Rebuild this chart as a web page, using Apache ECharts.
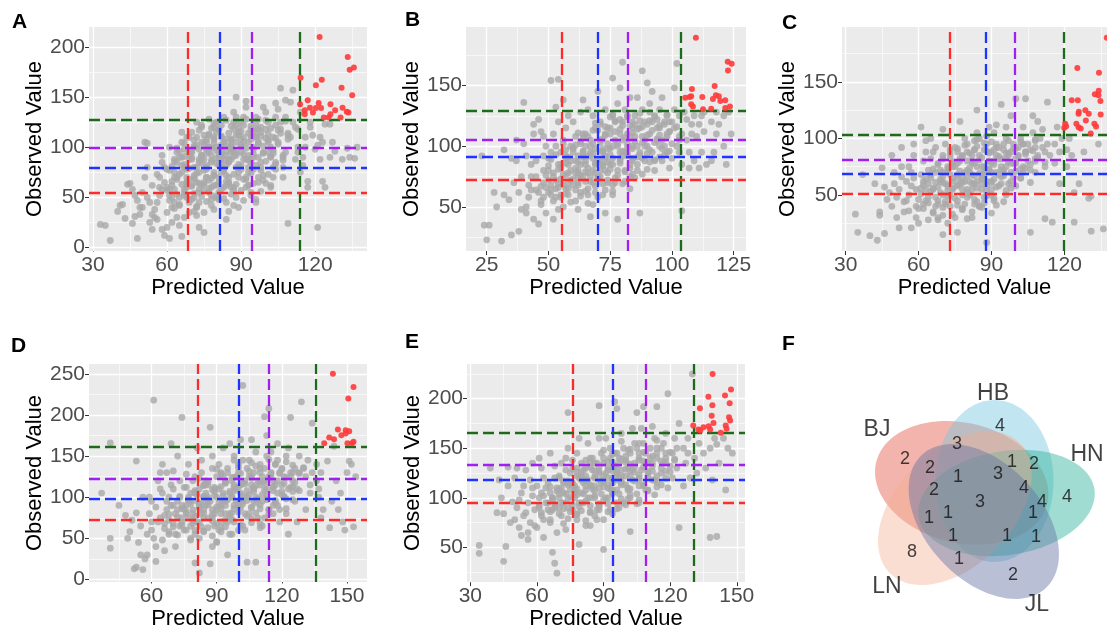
<!DOCTYPE html>
<html>
<head>
<meta charset="utf-8">
<script src="https://cdn.jsdelivr.net/npm/echarts@6.0.0/dist/echarts.min.js"></script>
<style>
  html, body { margin: 0; padding: 0; background: #fff; }
  #chart { width: 1107px; height: 631px; }
</style>
</head>
<body>
<div id="chart"></div>
<script>
// tick labels per panel
const xTicksA = [30, 60, 90, 120]
const yTicksA = [0, 50, 100, 150, 200]
const xTicksB = [25, 50, 75, 100, 125]
const yTicksB = [50, 100, 150]
const xTicksC = [30, 60, 90, 120]
const yTicksC = [50, 100, 150]
const xTicksD = [60, 90, 120, 150]
const yTicksD = [0, 50, 100, 150, 200, 250]
const xTicksE = [30, 60, 90, 120, 150]
const yTicksE = [50, 100, 150, 200]

// cut-off lines (red, blue, purple, green)
const cutXA = [68.2, 81.4, 94.2, 113.8]
const cutYA = [54.5, 79.7, 99.7, 127.6]
const cutXB = [55.5, 70, 82.2, 103.4]
const cutYB = [72.5, 91.6, 105.3, 129.5]
const cutXC = [73, 87.8, 99.7, 119.6]
const cutYC = [50.9, 68.7, 81.3, 103]
const cutXD = [81.5, 100.2, 114, 135.4]
const cutYD = [73, 98, 122.6, 161.5]
const cutXE = [76.3, 94.2, 109.2, 130.5]
const cutYE = [95.3, 118.1, 133.6, 165.6]

// highlighted (top) points
const redA = [[121.8,210],[133.2,190],[134,177.4],[135.7,179.7],[114.1,169.4],[122.7,167.4],[120.3,161.8],[130.7,159.5],[135,151.8],[113.9,142.9],[117,146.8],[121.4,144.2],[115.8,136.9],[115.8,132.9],[117.9,139.5],[120.3,139.2],[119.1,134.6],[122.4,139.2],[126.2,142.9],[123.5,129.6],[125.4,129.6],[128.1,136.9],[126.2,132.9],[130.3,129.6],[131.1,139.5],[132.8,135.5],[133.5,134.6]]
const redB = [[109.7,189.2],[122.6,169.5],[124.2,167.8],[122.7,162.3],[117.3,149.5],[108.1,147],[105.4,139.9],[107.2,140.4],[107.8,141],[112.3,140.4],[117.8,141.8],[119,141],[116.6,138.8],[119.6,137.1],[121.6,137.7],[107.8,134.4],[108.5,132.7],[112.6,130.3],[115.9,130.8],[121.6,131.4],[123.5,132.7]]
const redC = [[137.4,188.9],[125.3,162.2],[134.2,158],[134.1,142],[134,138],[132.5,139],[134.8,133],[123,133.7],[125.5,133.7],[125.9,123.6],[125.8,121.8],[128.6,124.8],[130,121.8],[134.9,121.2],[124.9,112.9],[125.8,109.9],[126.7,108.8],[128.8,115.9],[132.3,112.9],[133,110.5],[130.8,104.3],[120.3,112.9],[120.7,110.8],[119.9,109.3]]
const redD = [[143.5,250],[153,234.1],[150.6,220.2],[139.5,165.5],[141.8,172.6],[144,170.6],[145.8,182.5],[147.4,175.4],[149.4,181.3],[151,180.2],[150.2,165.5],[152.3,165.5],[153,167.5],[149.4,177.4]]
const redE = [[139.1,224.8],[147.4,209.2],[137.2,202],[144.7,203.3],[133.4,190.4],[139,193.4],[146.8,195.4],[138.7,182.8],[146.5,181.2],[147,177.9],[130.4,172.9],[132.7,168.9],[135,171.2],[137.3,172.2],[139.5,175.5],[138,168.9],[142.8,165.6],[145,172.9],[145.4,169.6],[133.6,168]]

// all other points
const grayA = [[33,23],[35,22],[37,7],[40,36],[41,42],[43,29],[42,43],[44,63],[45,64],[46,58],[47,31],[48,9],[48,47],[49,33],[47,52],[49,40],[46,24],
[51,105],[52,104],[50,40],[53,25],[52,50],[54,62],[51,70],[54,33],[53,45],[52,80],[54,18],[50,55],
[56,73],[57,60],[55,30],[58,18],[59,80],[56,45],[58,92],[57,52],[59,65],[55,38],[58,85],[56,28],[57,70],[59,12],[58,58],
[61,9],[62,62],[60,35],[63,70],[61,52],[64,85],[62,25],[63,45],[60,78],[64,95],[61,58],[62,40],[64,68],[63,88],[60,20],[62,50],[61,100],[63,75],[64,30],[60,60],
[66,11],[67,98],[65,42],[68,60],[66,75],[69,88],[67,30],[69,110],[65,50],[68,65],[66,82],[67,55],[69,95],[65,22],[68,70],[66,105],[69,45],[67,80],[68,62],[65,90],[66,115],[69,35],
[71,50],[72,65],[70,95],[73,20],[71,80],[74,105],[72,40],[73,58],[70,90],[74,120],[71,70],[73,85],[72,110],[70,48],[74,62],[71,100],[73,75],[72,32],[74,88],[70,115],[73,55],[71,68],[72,125],[74,92],
[76,70],[75,15],[77,100],[78,48],[76,82],[79,62],[77,112],[75,35],[78,92],[79,72],[76,105],[77,55],[78,85],[79,120],[75,65],[77,95],[76,78],[78,42],[79,110],[75,88],[77,128],[78,60],[76,98],[79,75],
[81,55],[80,125],[82,85],[83,105],[81,65],[84,28],[82,96],[80,115],[83,78],[84,45],[81,90],[82,110],[84,72],[80,100],[83,60],[81,118],[84,82],[82,92],[83,130],[80,50],[84,108],[81,70],[83,88],[82,102],
[86,108],[85,88],[87,60],[88,130],[86,98],[89,75],[87,118],[88,150],[85,85],[89,40],[86,95],[88,112],[85,70],[87,125],[89,80],[86,102],[88,92],[87,135],[85,65],[89,115],[86,88],[88,105],
[91,105],[92,68],[90,125],[93,92],[92,146],[94,55],[91,110],[93,80],[90,100],[94,118],[92,88],[91,130],[93,75],[94,112],[90,95],[92,140],[93,62],[91,122],[94,85],[90,108],
[96,130],[97,65],[95,90],[98,115],[96,45],[99,140],[97,105],[95,78],[98,120],[99,95],[96,110],[98,85],[97,128],[95,100],[99,72],[96,118],
[101,95],[102,60],[100,135],[103,110],[104,85],[101,125],[104,144],[102,100],[103,70],[100,118],[102,90],[104,130],[101,105],[103,80],
[106,118],[106,159],[107,90],[108,130],[108,147],[109,24],[105,105],[107,80],[109,112],[106,125],[108,95],[105,138],[107,70],
[111,157],[112,120],[113,95],[114,135],[110,110],[112,88],[111,125],[113,100],[114,75],[110,145],
[116,110],[117,60],[115,90],[118,125],[119,112],[117,66],[116,100],[118,120],[115,82],
[120,98],[121,20],[122,110],[123,66],[124,60],[124,123],[121,102],[123,105],[122,88],
[126,90],[127,105],[128,96],[126,123],[131,88],[133,99],[136,89],[134,90],[137,100],
[61,47],[65,43],[69,48],[72,41],[76,46],[79,38],[83,49],[87,42],[91,47],[63,39],[71,36],[85,36],
[60,57],[64,53],[67,58],[71,54],[75,57],[78,52],[82,58],[86,53],[90,57],[94,52],[98,56],[68,50],[80,51],
[62,66],[66,63],[69,68],[73,64],[77,67],[80,62],[84,66],[88,63],[91,68],[95,64],[99,67],[102,62],[70,61],[86,60],
[61,77],[65,73],[68,78],[72,74],[75,77],[79,72],[83,76],[87,73],[90,78],[94,74],[98,77],[101,73],[104,78],[76,70],[92,70],
[63,86],[67,83],[70,88],[74,84],[78,87],[81,82],[85,86],[89,83],[93,87],[96,82],[100,86],[104,83],[107,87],[72,80],[88,80],
[65,96],[69,93],[73,98],[76,94],[80,97],[84,92],[87,96],[91,93],[95,98],[99,94],[103,97],[107,92],[82,90],[97,90],
[67,104],[71,107],[75,103],[79,108],[83,104],[86,107],[90,102],[94,108],[97,104],[101,107],[105,103],[109,108],
[73,117],[77,113],[81,118],[85,114],[89,119],[93,114],[97,118],[101,113],[105,117],[109,114],[113,118],
[79,124],[84,127],[88,123],[92,128],[96,124],[100,127],[104,122],[108,126],
[63,58],[67,52],[70,62],[74,51],[77,59],[81,48],[84,62],[88,50],[92,60],[96,48],
[64,70],[68,65],[71,72],[75,63],[78,69],[82,75],[85,64],[89,70],[93,62],[97,70],[100,64],
[62,81],[66,90],[69,79],[73,88],[76,80],[80,89],[83,79],[87,91],[90,82],[94,89],[98,80],[102,91],
[64,99],[67,91],[71,101],[74,92],[78,99],[81,94],[85,101],[88,95],[92,99],[95,93],[99,101],[103,94],
[68,110],[72,102],[75,112],[79,104],[82,111],[86,100],[89,112],[93,105],[96,111],[100,109],[104,109],
[74,122],[78,119],[82,122],[86,121],[90,116],[94,121],[98,111],[102,119],[106,114],
[76,108],[84,96],[91,88],[70,96],[80,84],[95,116],[87,57],[73,45]]

const grayB = [[23,92],[24,35],[26,35],[25,23],[28,62],[29,50],
[31,22],[32,60],[35,27],[32,97],[37,105],[38,30],[34,56],[36,70],[39,48],[37,88],[39,75],[35,90],[38,62],
[40,136],[41,45],[42,58],[43,75],[41,92],[44,110],[42,68],[44,40],[43,85],[40,102],[44,118],[41,50],[43,64],
[46,36],[47,55],[48,70],[45,88],[49,100],[46,62],[48,80],[47,112],[49,45],[45,75],[48,92],[46,122],[49,66],[47,52],[48,108],
[51,154],[54,155],[52,40],[53,58],[50,72],[54,85],[51,95],[53,65],[52,110],[50,80],[54,48],[51,60],[53,100],[52,75],[54,120],[50,90],[53,132],[51,68],
[56,50],[57,65],[58,78],[55,95],[59,88],[56,105],[58,60],[57,115],[59,72],[55,82],[58,125],[56,68],[57,92],[59,100],[55,58],[58,85],[56,138],[57,76],
[61,55],[62,70],[63,85],[60,98],[64,110],[61,78],[63,62],[62,92],[64,75],[60,120],[63,102],[61,88],[62,48],[64,95],[60,68],[63,128],[61,108],[62,80],[64,138],
[66,60],[67,75],[68,90],[65,100],[69,115],[66,82],[68,70],[67,95],[69,85],[65,110],[68,125],[66,65],[67,105],[69,78],[65,88],[68,52],[66,130],[67,42],[69,98],
[71,80],[72,95],[73,110],[70,88],[74,70],[71,120],[73,92],[72,60],[74,102],[70,75],[73,130],[71,105],[72,85],[74,115],[70,145],[73,45],[72,98],[74,78],
[76,90],[77,105],[78,80],[75,115],[79,95],[76,125],[78,100],[77,70],[79,110],[75,85],[78,135],[76,60],[77,120],[79,88],[76,156],[78,40],[75,98],[79,148],
[81,95],[82,110],[83,85],[80,120],[84,100],[81,130],[83,75],[82,92],[84,115],[80,105],[83,140],[81,80],[82,125],[84,90],[80,169],[83,65],[82,102],
[86,100],[87,115],[88,90],[85,125],[89,105],[86,80],[88,130],[87,95],[89,120],[85,108],[88,162],[87,45],[86,140],[89,88],[85,118],
[91,110],[92,95],[93,125],[90,100],[94,115],[91,135],[93,88],[92,120],[94,105],[90,152],[93,80],[91,128],[92,145],
[96,105],[97,120],[98,95],[95,130],[99,112],[96,88],[98,125],[97,100],[95,115],[99,82],[96,140],[98,108],
[101,115],[102,100],[103,125],[100,90],[104,110],[101,130],[103,95],[102,168],[100,120],[104,85],[101,148],[103,105],[104,47],
[106,122],[107,95],[108,110],[105,128],[109,88],[106,105],[108,118],[107,82],[109,125],
[111,118],[112,95],[113,128],[110,108],[114,85],[111,82],[113,112],[112,125],
[116,120],[117,95],[118,110],[119,118],[116,88],[118,128],[121,125],[122,85],[123,128],[124,110],[121,100],
[48,58],[52,55],[55,60],[59,54],[63,59],[66,53],[70,58],[45,64],
[47,67],[51,64],[54,69],[58,65],[62,68],[65,63],[69,67],[73,64],[76,68],[57,61],
[49,76],[53,72],[56,77],[60,73],[63,76],[67,71],[71,75],[74,72],[78,76],[81,71],[85,74],[65,79],
[50,84],[54,81],[57,86],[61,82],[65,85],[68,80],[72,84],[75,81],[79,86],[83,82],[86,85],[90,81],[62,78],
[53,93],[57,90],[60,95],[64,91],[68,94],[71,89],[75,93],[79,90],[82,95],[86,91],[90,94],[93,89],[97,93],[74,87],
[56,102],[60,99],[63,104],[67,100],[71,103],[74,98],[78,102],[82,99],[85,104],[89,100],[93,103],[96,98],[100,102],
[62,111],[66,108],[70,113],[73,109],[77,112],[81,107],[84,111],[88,108],[92,113],[95,109],[99,112],[103,108],
[69,119],[73,116],[77,121],[80,117],[84,120],[88,116],[91,121],[95,117],[99,120],[102,116],
[76,126],[82,124],[87,127],[93,124],[98,126],
[50,62],[54,66],[58,70],[61,64],[65,71],[69,62],[72,69],[76,63],[80,69],
[52,78],[55,73],[59,80],[62,74],[66,78],[70,73],[73,80],[77,74],[81,79],[84,77],[88,77],
[51,89],[55,85],[58,91],[62,87],[66,92],[69,86],[73,90],[76,85],[80,92],[84,88],[87,93],[91,87],[95,91],
[57,97],[61,101],[64,96],[68,102],[72,96],[76,100],[80,96],[84,98],[88,103],[91,97],[95,100],[99,96],
[64,107],[68,113],[72,106],[75,110],[79,114],[83,108],[86,114],[90,109],[94,106],[98,110],
[71,118],[75,124],[79,122],[83,117],[87,121],[90,118],[94,122],[97,118]]

const grayC = [[34,33],[35,17],[37,68],[40,14],[43,10],[44,35],[44,32],[46,16],[46,57],[47,46],[45,74],[42,60],
[48,52],[49,40],[50,60],[52,21],[51,48],[53,66],[54,35],[50,70],[52,55],[54,44],[53,75],[51,30],[55,62],[49,85],[53,92],
[57,21],[56,50],[58,65],[59,40],[56,75],[57,58],[59,30],[58,85],[55,45],[57,70],[59,55],[56,36],[58,95],
[61,51],[61,110],[62,62],[63,45],[64,72],[60,38],[62,80],[63,55],[64,28],[61,68],[63,88],[62,42],[64,60],[60,25],[63,98],
[66,55],[67,70],[68,45],[65,82],[69,62],[66,35],[68,78],[67,92],[69,52],[65,65],[68,28],[66,88],[69,72],[70,15],[67,40],[65,100],
[71,60],[72,75],[73,50],[70,85],[74,65],[71,42],[73,90],[72,58],[74,78],[70,32],[73,68],[71,95],[72,25],[74,55],[70,108],[73,82],
[76,17],[76,65],[77,80],[78,55],[75,92],[79,70],[76,45],[78,85],[77,60],[79,100],[75,75],[78,38],[77,115],[79,62],[76,88],[78,50],[75,30],
[81,70],[82,85],[83,60],[80,95],[84,75],[81,50],[83,90],[82,68],[84,105],[80,80],[83,42],[81,62],[82,78],[84,125],[80,55],[83,98],[82,30],
[86,75],[87,90],[88,62],[85,100],[89,80],[86,55],[88,95],[87,70],[89,110],[85,85],[88,8],[86,65],[87,48],[89,72],[85,40],[88,102],
[91,80],[92,95],[93,68],[90,88],[94,75],[91,105],[93,58],[92,85],[94,130],[90,70],[93,92],[91,45],[92,112],[94,82],[90,62],
[96,82],[97,98],[98,70],[95,90],[99,78],[96,110],[98,88],[97,60],[99,95],[95,72],[98,120],[96,50],[97,85],
[101,85],[102,100],[103,75],[100,135],[104,135],[101,92],[103,110],[102,65],[104,88],[100,78],[103,95],
[106,17],[106,90],[107,105],[108,80],[105,95],[109,115],[106,72],[108,98],[107,120],[109,85],
[111,92],[112,29],[113,132],[110,100],[114,85],[111,108],[113,95],[112,75],[115,26],
[116,95],[117,110],[118,88],[119,100],[116,78],[118,60],[124,26],[121,90],[122,100],[123,85],[124,52],[121,75],
[131,18],[136,20],[130,47],[131,49],[134,95],[128,88],[126,60],
[62,38],[66,34],[70,39],[74,33],[78,37],[82,35],[86,39],[90,34],[68,30],[80,29],
[60,46],[64,43],[67,48],[71,44],[75,47],[79,42],[83,46],[87,43],[91,47],[95,44],[73,40],[85,40],
[61,56],[65,53],[68,57],[72,54],[76,58],[80,52],[84,56],[88,53],[92,57],[96,54],[100,58],[70,50],[90,50],
[63,64],[67,61],[70,66],[74,62],[78,65],[82,60],[86,64],[90,61],[94,66],[98,62],[102,65],[106,61],[76,59],[88,58],
[66,73],[70,70],[74,75],[77,71],[81,74],[85,69],[89,73],[92,70],[96,75],[100,71],[104,74],[108,70],[83,67],[95,67],
[70,82],[74,79],[78,84],[82,80],[86,83],[90,78],[93,82],[97,79],[101,84],[105,80],[109,83],[112,79],
[76,91],[80,88],[84,93],[88,89],[92,92],[96,87],[100,91],[104,88],[108,92],[112,88],
[84,99],[90,97],[96,100],[102,97],[108,99],
[64,48],[68,42],[72,49],[76,41],[80,48],[84,44],[88,49],[92,41],
[62,59],[66,56],[70,61],[74,56],[78,61],[82,55],[86,60],[90,55],[94,60],[98,56],
[65,68],[69,64],[72,70],[76,68],[80,67],[84,62],[87,69],[91,64],[95,69],[99,66],[103,70],
[68,77],[72,73],[76,78],[80,72],[83,78],[87,75],[91,77],[94,72],[98,78],[102,73],[106,77],
[73,86],[77,82],[81,87],[85,81],[89,87],[93,84],[97,87],[100,82],[104,86],[108,82],
[79,94],[83,90],[87,96],[91,90],[95,95],[99,91],[103,95],[107,89]]

const grayD = [[37,105],[41,166],[41,50],[41,38],[45,90],[48,78],[50,58],[52,13],[53,15],[53,81],[53,144],[56,12],[57,25],[54,45],[55,65],[51,72],[49,50],[56,100],[55,30],
[58,55],[59,80],[60,95],[61,218],[62,40],[63,70],[64,110],[60,60],[62,88],[58,30],[63,120],[61,50],[64,75],[59,100],[62,22],[64,130],[60,70],
[66,62],[67,85],[68,100],[65,48],[69,115],[66,78],[68,55],[67,130],[69,90],[65,105],[68,72],[66,35],[69,165],[67,95],[65,140],
[71,80],[72,95],[73,65],[70,110],[74,197],[71,55],[73,120],[72,85],[74,75],[70,132],[73,100],[71,40],[72,150],[74,90],[70,68],
[76,90],[77,75],[78,105],[75,60],[79,120],[76,80],[78,95],[77,140],[79,68],[75,112],[78,50],[76,128],[80,20],[79,85],[77,100],
[81,95],[82,110],[83,80],[80,125],[84,100],[81,70],[83,145],[82,88],[84,115],[80,60],[83,92],[82,8],[81,160],[84,75],[80,105],[83,130],[82,50],
[86,100],[87,185],[88,85],[85,120],[89,110],[86,75],[88,135],[87,95],[89,65],[85,90],[88,150],[86,115],[87,19],[89,80],[85,105],[88,40],
[91,110],[92,90],[93,125],[90,100],[94,80],[91,140],[93,105],[92,70],[94,118],[90,88],[93,160],[91,60],[92,130],[94,95],[90,45],
[96,105],[97,120],[98,90],[95,135],[99,110],[96,80],[98,150],[97,100],[99,125],[95,70],[98,115],[96,165],[97,55],[99,95],[95,30],
[101,105],[102,236],[103,120],[100,90],[104,135],[101,115],[103,80],[102,145],[104,100],[100,130],[103,60],[101,170],[104,21],[102,95],
[106,115],[107,130],[108,100],[105,145],[109,120],[106,88],[108,155],[107,110],[109,75],[105,125],[108,21],[106,170],[107,95],
[111,125],[112,198],[113,110],[110,140],[114,208],[111,95],[113,150],[112,120],[114,85],[110,115],[113,175],[111,65],[112,135],
[116,120],[117,140],[118,105],[115,155],[119,130],[116,90],[118,165],[117,115],[119,70],[115,130],[118,145],
[121,125],[122,150],[123,110],[120,135],[124,197],[121,100],[123,160],[122,80],[124,130],[120,115],[123,55],
[126,135],[127,110],[128,150],[125,120],[129,216],[126,95],[128,130],[127,70],
[131,125],[132,145],[133,105],[134,190],[130,135],[133,115],[131,85],[134,130],
[136,120],[137,100],[138,130],[139,85],[136,140],[138,75],[137,110],
[141,144],[142,63],[143,95],[145,120],[146,85],[148,70],[149,60],[151,144],[153,64],[150,130],[152,140],[154,125],[144,162],[147,105],
[68,58],[72,54],[76,60],[80,55],[84,59],[88,53],[92,58],[96,55],[100,60],[78,48],[90,46],
[66,68],[70,64],[74,70],[78,65],[82,69],[86,63],[90,68],[94,64],[98,70],[102,65],[106,69],[110,63],[84,58],
[68,79],[72,76],[76,82],[80,77],[84,81],[88,75],[92,80],[96,76],[100,82],[104,77],[108,81],[112,75],[116,80],[94,72],
[70,90],[74,86],[78,92],[82,87],[86,91],[90,85],[94,90],[98,86],[102,92],[106,87],[110,91],[114,85],[118,90],[122,86],
[73,101],[77,97],[81,103],[85,98],[89,102],[93,96],[97,101],[101,97],[105,103],[109,98],[113,102],[117,96],[121,101],[125,97],
[76,112],[80,108],[84,114],[88,109],[92,113],[96,107],[100,112],[104,108],[108,114],[112,109],[116,113],[120,107],[124,112],[128,108],
[82,123],[86,119],[90,125],[94,120],[98,124],[102,118],[106,123],[110,119],[114,125],[118,120],[122,124],[126,118],
[90,134],[95,130],[100,136],[105,131],[110,135],[115,129],[120,134],[125,130],[130,136],
[98,145],[106,142],[114,146],[122,143],
[74,66],[79,72],[83,64],[88,71],[92,63],[97,73],[101,66],[106,74],[110,68],
[75,86],[79,80],[84,85],[88,79],[92,86],[97,81],[101,87],[105,80],[110,86],[114,80],[119,85],
[77,96],[82,92],[86,97],[91,93],[95,97],[100,91],[104,96],[108,93],[113,97],[117,93],[122,98],
[80,106],[84,101],[89,107],[93,102],[98,108],[102,102],[107,107],[111,103],[116,108],[120,103],[125,107],
[85,116],[89,112],[94,117],[98,112],[103,116],[107,111],[112,117],[116,112],[121,117],[125,113],
[92,128],[97,124],[101,129],[106,125],[110,130],[115,124],[119,129],[124,125],[128,129],
[100,140],[108,138],[117,140],[125,139]]

const grayE = [[34,52],[34,44],[39,130],[45,36],[46,51],[45,84],[47,131],[44,100],[42,85],[48,75],[49,96],[47,112],[43,118],
[51,90],[52,70],[53,105],[50,120],[54,82],[51,130],[53,62],[52,98],[54,112],[50,78],
[56,95],[57,75],[58,110],[55,128],[59,88],[56,65],[58,102],[57,118],[59,72],[55,85],[58,135],[56,58],
[61,100],[62,85],[63,120],[60,70],[64,110],[61,90],[63,60],[62,130],[64,95],[60,112],[63,78],[61,140],[62,105],
[67,45],[68,34],[69,24],[66,105],[67,88],[68,120],[65,95],[69,110],[66,75],[68,132],[67,100],[69,65],[65,115],[68,90],[66,145],
[74,186],[71,110],[72,95],[73,128],[70,100],[74,115],[71,82],[73,140],[72,105],[74,90],[70,122],[73,68],[71,135],[72,115],[74,150],
[79,53],[76,115],[77,100],[78,130],[75,108],[79,120],[76,88],[78,145],[77,112],[79,95],[75,125],[78,78],[76,138],[77,105],[79,160],
[81,115],[82,130],[83,100],[80,122],[84,140],[81,95],[83,118],[82,108],[84,85],[80,135],[83,155],[81,128],[82,72],[84,112],[80,105],
[88,193],[86,120],[87,135],[88,110],[85,128],[89,145],[86,100],[88,125],[87,88],[89,115],[85,140],[88,160],[86,112],[87,78],[90,48],
[91,125],[92,110],[93,140],[90,118],[94,130],[91,100],[93,150],[92,120],[94,105],[90,135],[93,88],[91,160],[92,128],[94,115],
[95,197],[96,190],[96,125],[97,140],[98,115],[95,132],[99,150],[96,108],[98,128],[97,120],[99,95],[95,145],[98,165],[97,135],
[101,130],[102,145],[103,118],[100,138],[104,155],[101,110],[103,128],[102,66],[104,135],[100,122],[103,170],[101,148],[102,100],
[105,186],[106,140],[107,128],[108,155],[106,120],[109,145],[107,170],[108,112],[109,135],[105,150],[108,192],[106,95],
[111,150],[112,135],[113,160],[110,125],[114,192],[111,140],[113,118],[112,172],[114,145],[110,108],
[116,150],[117,135],[118,165],[119,205],[116,125],[118,140],[117,155],[119,110],
[121,145],[122,160],[123,130],[124,70],[121,120],[123,150],[122,138],[124,175],
[126,150],[127,135],[128,160],[129,120],[126,112],[128,145],[130,225],
[131,140],[132,125],[133,155],[135,145],[136,130],[138,60],[138,150],[140,160],[141,154],[141,61],[142,135],[145,108],[146,150],[148,145],[144,160],[139,118],
[62,82],[66,78],[70,84],[74,79],[78,83],[82,77],[86,82],[90,78],[94,84],[72,74],[84,72],
[61,92],[65,88],[68,94],[72,89],[76,93],[80,87],[84,92],[88,88],[92,94],[96,89],[100,93],[78,84],
[63,102],[67,98],[70,104],[74,99],[78,103],[82,97],[86,102],[90,98],[94,104],[98,99],[102,103],[106,98],[88,94],
[66,111],[70,108],[74,113],[78,109],[82,112],[86,107],[90,111],[94,108],[98,113],[102,109],[106,112],[110,107],[114,111],
[70,120],[74,117],[78,122],[82,118],[86,121],[90,116],[94,120],[98,117],[102,122],[106,118],[110,121],[114,116],[118,120],
[76,129],[80,126],[84,131],[88,127],[92,130],[96,125],[100,129],[104,126],[108,131],[112,127],[116,130],[120,126],
[82,138],[86,135],[90,140],[94,136],[98,139],[102,134],[106,138],[110,135],[114,140],[118,136],[122,139],
[90,148],[96,145],[102,149],[108,146],[114,150],[120,146],
[98,157],[106,155],[114,158],
[66,86],[70,90],[75,86],[79,91],[84,86],[88,91],[92,86],[97,90],
[67,100],[71,95],[75,101],[80,95],[84,100],[88,93],[92,100],[96,95],[101,99],[105,94],
[69,107],[73,104],[77,108],[81,104],[85,109],[89,104],[93,109],[97,104],[101,108],[105,104],[109,108],[113,103],
[72,117],[76,113],[80,118],[84,113],[88,118],[92,113],[96,118],[100,113],[104,117],[108,113],[112,118],[116,113],
[78,126],[82,122],[86,127],[90,122],[94,127],[98,122],[102,127],[106,123],[110,127],[114,122],[118,127],
[84,135],[88,131],[92,136],[96,131],[100,136],[104,131],[108,137],[112,132],[116,137],[120,132],
[94,144],[100,142],[106,145],[112,142],[118,145]]

// Venn diagram (F): set names, region counts, label spots and ellipse shapes (local units)
const vennSets = ['BJ', 'HB', 'HN', 'LN', 'JL']
const vennSetPos = [[17, 50], [133, 14], [227, 75], [27, 207], [177, 225]]
const vennCX = [101.7, 134.5, 146.5, 94.9, 123.8]
const vennCY = [102.9, 101, 123, 128.1, 141.5]
const vennA = [88, 81, 89, 92, 91]
const vennB = [60, 59, 52, 58, 58]
const vennAngle = [-13.6, 90, 9, 45, -47]
const vennColors = ['rgba(230,105,90,0.5)', 'rgba(120,200,225,0.45)', 'rgba(45,178,152,0.45)', 'rgba(246,172,142,0.4)', 'rgba(100,115,165,0.45)']
const vennCounts = [4, 3, 2, 2, 1, 3, 1, 2, 4, 2, 3, 4, 4, 1, 1, 1, 1, 1, 1, 8, 1, 2]
const vennCountPos = [[140,46],[97,64],[45,79],[70,88],[98,97],[138,94],[152,82],[174,84],[207,117],[74,110],[120,122],[164,108],[182,122],[69,138],[88,133],[173,133],[93,156],[147,156],[176,157],[52,172],[99,179],[153,195]]

const FONT = '"Liberation Sans", Arial, sans-serif'
const CUT_COLORS = ['#ff2a2a', '#2233ff', '#a020f0', '#1c6b1c']

const panels = [
  { letter: 'A', lx: 12, ly: 12, grid: { left: 89, top: 27, width: 278, height: 224 }, xr: [28.4, 141], yr: [-3.5, 220], xt: xTicksA, yt: yTicksA, cx: cutXA, cy: cutYA, gray: grayA, red: redA },
  { letter: 'B', lx: 405, ly: 10, grid: { left: 466, top: 27, width: 280, height: 224 }, xr: [16.6, 130], yr: [13.8, 198], xt: xTicksB, yt: yTicksB, cx: cutXB, cy: cutYB, gray: grayB, red: redB },
  { letter: 'C', lx: 782, ly: 13, grid: { left: 842, top: 27, width: 265, height: 224 }, xr: [28.5, 137.5], yr: [0.5, 198.4], xt: xTicksC, yt: yTicksC, cx: cutXC, cy: cutYC, gray: grayC, red: redC },
  { letter: 'D', lx: 11, ly: 336, grid: { left: 89, top: 364, width: 278, height: 223 }, xr: [31.2, 159.2], yr: [-3.2, 262], xt: xTicksD, yt: yTicksD, cx: cutXD, cy: cutYD, gray: grayD, red: redD },
  { letter: 'E', lx: 405, ly: 332, grid: { left: 467, top: 364, width: 278, height: 222 }, xr: [28.5, 153.7], yr: [15, 235], xt: xTicksE, yt: yTicksE, cx: cutXE, cy: cutYE, gray: grayE, red: redE },
]

const minorOf = (ticks, range) => {
  const step = ticks[1] - ticks[0]
  return [ticks[0] - step / 2, ...ticks.map((v) => v + step / 2)].filter((v) => v > range[0] && v < range[1])
}

const grids = []
const xAxes = []
const yAxes = []
const series = []
const titles = []

panels.forEach((p, i) => {
  grids.push({ ...p.grid, show: true, backgroundColor: '#ebebeb', borderWidth: 0 })
  titles.push({ text: p.letter, left: p.lx, top: p.ly, padding: 0, textStyle: { fontFamily: FONT, fontSize: 21, fontWeight: 'bold', color: '#000' } })
  const axisCommon = {
    gridIndex: i,
    type: 'value',
    axisLine: { show: false },
    splitLine: { show: false },
    nameLocation: 'middle',
    nameTextStyle: { fontFamily: FONT, fontSize: 22, color: '#000' },
  }
  xAxes.push({
    ...axisCommon,
    min: p.xr[0],
    max: p.xr[1],
    name: 'Predicted Value',
    nameGap: 24,
    axisTick: { show: true, length: 4, customValues: p.xt, lineStyle: { color: '#333' } },
    axisLabel: { customValues: p.xt, margin: 4, fontFamily: FONT, fontSize: 21, color: '#4d4d4d' },
  })
  yAxes.push({
    ...axisCommon,
    min: p.yr[0],
    max: p.yr[1],
    name: 'Observed Value',
    nameGap: 38,
    axisTick: { show: true, length: 4, customValues: p.yt, lineStyle: { color: '#333' } },
    axisLabel: { customValues: p.yt, margin: 4, fontFamily: FONT, fontSize: 21, color: '#4d4d4d' },
  })

  // white ggplot-like grid lines
  const gridData = [
    ...p.xt.map((v) => ({ xAxis: v, lineStyle: { width: 1.3 } })),
    ...minorOf(p.xt, p.xr).map((v) => ({ xAxis: v, lineStyle: { width: 0.6 } })),
    ...p.yt.map((v) => ({ yAxis: v, lineStyle: { width: 1.3 } })),
    ...minorOf(p.yt, p.yr).map((v) => ({ yAxis: v, lineStyle: { width: 0.6 } })),
  ]
  series.push({
    type: 'scatter', xAxisIndex: i, yAxisIndex: i, data: [], z: 1, silent: true,
    markLine: { silent: true, z: 1, symbol: ['none', 'none'], label: { show: false }, lineStyle: { color: '#fff', type: 'solid' }, data: gridData },
  })
  series.push({
    type: 'scatter', xAxisIndex: i, yAxisIndex: i, z: 2, symbolSize: 6.8, silent: true,
    itemStyle: { color: '#a9a9a9', opacity: 0.8 },
    data: p.gray,
  })
  const cutData = [
    ...p.cx.map((v, k) => ({ xAxis: v, lineStyle: { color: CUT_COLORS[k] } })),
    ...p.cy.map((v, k) => ({ yAxis: v, lineStyle: { color: CUT_COLORS[k] } })),
  ]
  series.push({
    type: 'scatter', xAxisIndex: i, yAxisIndex: i, data: [], z: 3, silent: true,
    markLine: { silent: true, z: 3, symbol: ['none', 'none'], label: { show: false }, lineStyle: { width: 2.3, type: [11, 5] }, data: cutData },
  })
  series.push({
    type: 'scatter', xAxisIndex: i, yAxisIndex: i, z: 4, symbolSize: 6, silent: true,
    itemStyle: { color: '#ff3a3a', opacity: 0.9 },
    data: p.red,
  })
})

// panel F: Venn diagram on a hidden grid
const vi = panels.length
titles.push({ text: 'F', left: 782, top: 334, padding: 0, textStyle: { fontFamily: FONT, fontSize: 21, fontWeight: 'bold', color: '#000' } })
grids.push({ left: 860, top: 380, width: 247, height: 247 })
xAxes.push({ gridIndex: vi, type: 'value', min: 0, max: 247, show: false })
yAxes.push({ gridIndex: vi, type: 'value', min: 0, max: 247, inverse: true, show: false })

series.push({
  type: 'custom',
  xAxisIndex: vi,
  yAxisIndex: vi,
  silent: true,
  data: vennSets.map((n, k) => [vennCX[k], vennCY[k], vennA[k], vennB[k], vennAngle[k]]),
  renderItem: (params, api) => {
    const k = params.dataIndex
    const cx = vennCX[k]
    const cy = vennCY[k]
    const a = vennA[k]
    const b = vennB[k]
    const ang = (vennAngle[k] * Math.PI) / 180
    const pts = []
    for (let j = 0; j < 96; j++) {
      const t = (j / 96) * Math.PI * 2
      const ex = a * Math.cos(t)
      const ey = b * Math.sin(t)
      // y axis is inverted, so subtract to rotate counter-clockwise on screen
      pts.push(api.coord([cx + ex * Math.cos(ang) - ey * Math.sin(ang), cy - (ex * Math.sin(ang) + ey * Math.cos(ang))]))
    }
    return { type: 'polygon', shape: { points: pts }, style: { fill: vennColors[k] } }
  },
})
series.push({
  type: 'scatter', xAxisIndex: vi, yAxisIndex: vi, symbolSize: 0.1, silent: true, z: 5,
  label: { show: true, position: 'inside', formatter: '{b}', fontFamily: FONT, fontSize: 18, color: '#111' },
  data: vennCountPos.map((pos, k) => ({ name: String(vennCounts[k]), value: pos })),
})
series.push({
  type: 'scatter', xAxisIndex: vi, yAxisIndex: vi, symbolSize: 0.1, silent: true, z: 5,
  label: { show: true, position: 'inside', formatter: '{b}', fontFamily: FONT, fontSize: 23, color: '#111' },
  data: vennSetPos.map((pos, k) => ({ name: vennSets[k], value: pos })),
})

const chart = echarts.init(document.getElementById('chart'), null, { renderer: 'canvas' })
chart.setOption({
  animation: false,
  backgroundColor: '#fff',
  title: titles,
  grid: grids,
  xAxis: xAxes,
  yAxis: yAxes,
  series,
})
</script>
</body>
</html>
